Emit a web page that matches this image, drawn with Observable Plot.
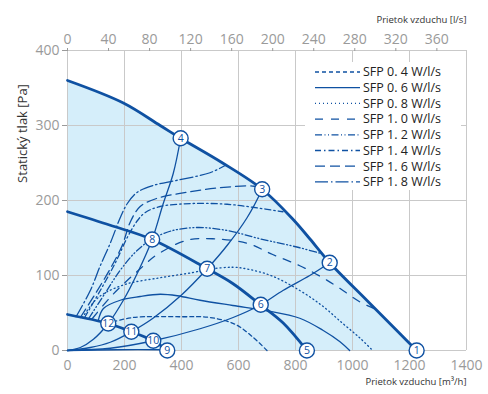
<!DOCTYPE html>
<html><head><meta charset="utf-8">
<script src="https://cdn.jsdelivr.net/npm/d3@7"></script>
<script src="https://cdn.jsdelivr.net/npm/@observablehq/plot@0.6"></script>
<style>body{margin:0;background:#fff;font-family:"Open Sans",sans-serif}</style>
</head><body><div id="chart"></div>
<script>
// ---- tick labels ----
const flowTicks = [0, 200, 400, 600, 800, 1000, 1200, 1400];      // m3/h
const pressureTicks = [0, 100, 200, 300, 400];                   // Pa
const lsTicks = [0, 40, 80, 120, 160, 200, 240, 280, 320, 360];   // l/s

// ---- fan curves (flow m3/h, pressure Pa) ----
const maxCurve = [[0,360],[196,330],[325,300],[397,283],[540,251],[683,215],[791,175],[850,149],[920,117],[1050,67],[1165,23],[1225,0]];
const midCurve = [[0,185],[150,167],[297,148],[490,109],[581,89],[677,61],[756,37],[840,0]];
const lowCurve = [[0,48],[143,36],[224,25],[301,13],[350,0]];

// ---- system curves ----
const sys1 = [[0,0],[45,4],[91,15],[143,36],[196,67],[245,103],[297,148],[336,196],[371,236],[397,283]];
const sys2 = [[0,0],[80,4],[150,11],[224,25],[300,43],[400,74],[490,109],[560,140],[630,177],[683,215]];
const sys3 = [[0,0],[150,3],[301,13],[465,29],[581,44],[678,61],[756,80],[850,100],[920,117]];
const sys4 = [[0,0],[175,1],[350,1]];

// ---- SFP curves ----
const sfp04 = [[160,38],[230,44],[400,45],[500,44],[588,35],[650,18],[700,0]];
const sfp06 = [[108,40],[126,56],[185,67],[255,72],[325,75],[385,73],[465,67],[580,60],[700,53],[815,43],[896,27],[955,12],[990,0]];
const sfp08 = [[52,44],[98,67],[133,77],[210,89],[325,97],[440,104],[490,108],[580,111],[640,108],[720,99],[815,80],[896,59],[966,36],[1025,17],[1071,0]];
const sfp10 = [[88,43],[150,71],[203,91],[255,109],[315,128],[420,147],[510,149],[630,143],[720,128],[815,113],[896,97],[955,83],[1025,65],[1082,55]];
const sfp12 = [[75,43],[133,77],[185,107],[238,131],[290,147],[360,159],[455,164],[560,160],[675,149],[815,137],[892,129]];
const sfp14 = [[60,44],[115,80],[168,117],[213,153],[245,173],[273,184],[325,192],[440,196],[560,195],[650,191],[756,185]];
const sfp16 = [[45,44],[100,77],[150,109],[192,140],[220,171],[255,192],[315,203],[420,211],[535,217],[655,219],[683,215]];
const sfp18 = [[30,45],[80,80],[115,113],[150,143],[185,177],[210,196],[245,211],[300,220],[385,227],[500,237],[555,247]];

const sfpNames = ["SFP 0. 4 W/l/s","SFP 0. 6 W/l/s","SFP 0. 8 W/l/s","SFP 1. 0 W/l/s","SFP 1. 2 W/l/s","SFP 1. 4 W/l/s","SFP 1. 6 W/l/s","SFP 1. 8 W/l/s"];
const sfpData = [sfp04, sfp06, sfp08, sfp10, sfp12, sfp14, sfp16, sfp18];
const sfpDash = ["4,3", null, "1,3", "8,8", "7,2.5,1,2.5,1,2.5", "6,3,1.5,3", "10,5", "13,3,1.5,3"];

// ---- operating points ----
const pointLabel = ["1","2","3","4","5","6","7","8","9","10","11","12"];
const pointFlow = [1225, 920, 683, 397, 840, 678, 490, 297, 350, 301, 224, 143];
const pointPress = [0, 117, 215, 283, 0, 61, 109, 148, 0, 13, 25, 36];

const blue = "#0f51a2";
const grid = "#c9c9c9";
const tickColor = "#9a9a9a";
const pts = (arr) => arr.map(([x, y]) => ({x, y}));
const points = pointLabel.map((l, i) => ({l, x: pointFlow[i], y: pointPress[i]}));

const marks = [
  Plot.areaY(pts(maxCurve), {x: "x", y: "y", fill: "#d5eefa", curve: "catmull-rom"}),
  Plot.ruleX(flowTicks, {stroke: grid, strokeWidth: 1}),
  Plot.ruleY(pressureTicks, {stroke: grid, strokeWidth: 1}),
  Plot.axisY({ticks: pressureTicks, tickFormat: d => String(d), tickSize: 5, tickPadding: 3, fontSize: 14, color: tickColor, label: null}),
  Plot.axisX({anchor: "bottom", ticks: flowTicks, tickFormat: d => String(d), tickSize: 0, tickPadding: 10, fontSize: 14, color: tickColor, label: null}),
  Plot.axisX({anchor: "top", ticks: lsTicks.map(v => v * 3.6), tickFormat: d => String(Math.round(d / 3.6)), tickSize: 3, tickPadding: 4, fontSize: 14, color: tickColor, label: null}),
  ...sfpData.map((d, i) => Plot.line(pts(d), {x: "x", y: "y", stroke: blue, strokeWidth: 1.3, strokeDasharray: sfpDash[i], curve: "catmull-rom"})),
  ...[sys1, sys2, sys3, sys4].map(d => Plot.line(pts(d), {x: "x", y: "y", stroke: blue, strokeWidth: 1.3, curve: "catmull-rom"})),
  ...[maxCurve, midCurve, lowCurve].map(d => Plot.line(pts(d), {x: "x", y: "y", stroke: blue, strokeWidth: 2.8, curve: "catmull-rom"})),
  Plot.dot(points, {x: "x", y: "y", r: 7.5, fill: "white", stroke: blue, strokeWidth: 1.4}),
  Plot.text(points, {x: "x", y: "y", text: "l", fill: blue, fontSize: 10.5}),
  Plot.text(["Prietok vzduchu [m³/h]"], {frameAnchor: "bottom-right", dy: 34, fontSize: 9.5, fill: "#333"}),
  Plot.text(["Prietok vzduchu [l/s]"], {frameAnchor: "top-right", dy: -34, fontSize: 9.5, fill: "#333"}),
  Plot.text(["Statický tlak [Pa]"], {frameAnchor: "top-left", dx: -50, dy: 83, rotate: -90, textAnchor: "middle", fontSize: 13, fill: "#333"})
];

const chart = Plot.plot({
  width: 488, height: 394,
  marginLeft: 67, marginRight: 22, marginTop: 50, marginBottom: 44,
  x: {domain: [0, 1400]},
  y: {domain: [0, 400]},
  style: {fontFamily: "Open Sans", background: "white"},
  marks
});
document.getElementById("chart").appendChild(chart);

// ---- legend ----
const svg = d3.select(chart);
const lg = svg.append("g");
lg.append("rect").attr("x", 305).attr("y", 62).attr("width", 156).attr("height", 128).attr("fill", "white");
sfpNames.forEach((name, i) => {
  const y = 72 + i * 15.7;
  lg.append("line").attr("x1", 315).attr("x2", 360).attr("y1", y).attr("y2", y)
    .attr("stroke", blue).attr("stroke-width", 1.3).attr("stroke-dasharray", sfpDash[i]);
  lg.append("text").attr("x", 363).attr("y", y).attr("dy", "0.35em").attr("text-anchor", "start")
    .attr("font-size", 12.5).attr("fill", "#222").attr("font-family", "Open Sans").text(name);
});
</script></body></html>
